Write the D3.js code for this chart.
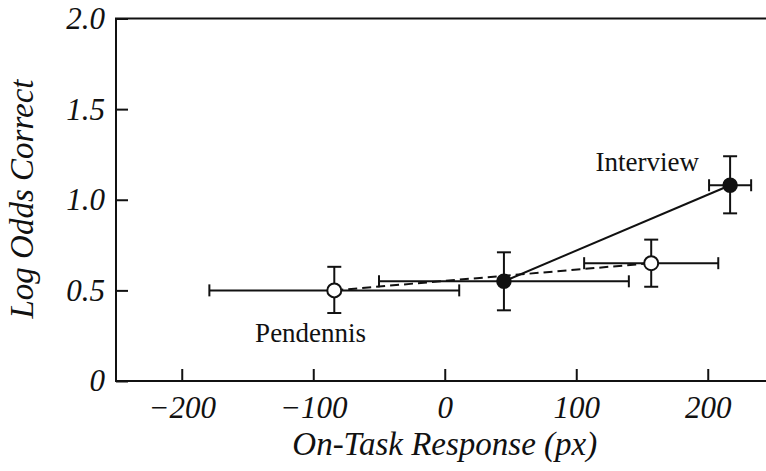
<!DOCTYPE html>
<html>
<head>
<meta charset="utf-8">
<script src="https://cdn.jsdelivr.net/npm/d3@7"></script>
<style>
  body { margin: 0; background: #fff; }
  svg { display: block; }
  svg text { font-family: 'Liberation Serif', 'Times New Roman', serif; }
</style>
</head>
<body>
<svg id="chart"></svg>
<script>
// values
const xTicks = [-200, -100, 0, 100, 200]
const yTicks = [0, 0.5, 1.0, 1.5, 2.0]

// Interview (filled markers, solid line)
const interviewX = [45, 217]
const interviewY = [0.55, 1.08]
const interviewXLo = [-50, 201]
const interviewXHi = [140, 233]
const interviewYLo = [0.39, 0.925]
const interviewYHi = [0.71, 1.24]

// Pendennis (open markers, dashed line)
const pendennisX = [-84, 157]
const pendennisY = [0.5, 0.65]
const pendennisXLo = [-179, 106]
const pendennisXHi = [11, 208]
const pendennisYLo = [0.375, 0.52]
const pendennisYHi = [0.63, 0.78]

const seriesNames = ['Interview', 'Pendennis']
const labelX = [154, -102]
const labelY = [1.16, 0.215]

const W = 766, H = 471
const plotLeft = 116, plotTop = 18.5, plotRight = 773.5, plotBottom = 381
const font = "'Liberation Serif', 'Times New Roman', serif"

const svg = d3.select('#chart').attr('width', W).attr('height', H)

const x = d3.scaleLinear().domain([-250, 250]).range([plotLeft, plotRight])
const y = d3.scaleLinear().domain([0, 2]).range([plotBottom, plotTop])

// frame
svg.append('rect')
  .attr('x', plotLeft).attr('y', plotTop)
  .attr('width', plotRight - plotLeft).attr('height', plotBottom - plotTop)
  .attr('fill', 'none').attr('stroke', '#111').attr('stroke-width', 2)

let xAxis = svg.append('g')
  .attr('transform', 'translate(0,' + plotBottom + ')')
  .call(d3.axisBottom(x).tickValues(xTicks).tickFormat(d3.format('d'))
    .tickSizeInner(-12).tickSizeOuter(0).tickPadding(15))
xAxis.select('.domain').remove()

let yAxis = svg.append('g')
  .attr('transform', 'translate(' + plotLeft + ',0)')
  .call(d3.axisLeft(y).tickValues(yTicks)
    .tickFormat(d => d === 0 ? '0' : d3.format('.1f')(d))
    .tickSizeInner(-12).tickSizeOuter(0).tickPadding(11))
yAxis.select('.domain').remove()

svg.selectAll('.tick line').attr('stroke', '#111').attr('stroke-width', 2)
svg.selectAll('.tick text')
  .style('font-family', font)
  .style('font-style', 'italic')
  .style('font-size', '31px')
  .attr('fill', '#111')

// axis titles
svg.append('text')
  .attr('x', x(0))
  .attr('y', 455)
  .attr('text-anchor', 'middle')
  .style('font-family', font).style('font-style', 'italic').style('font-size', '33px')
  .attr('fill', '#111')
  .text('On-Task Response (px)')

svg.append('text')
  .attr('transform', 'translate(33,199) rotate(-90)')
  .attr('text-anchor', 'middle')
  .style('font-family', font).style('font-style', 'italic').style('font-size', '33px')
  .attr('fill', '#111')
  .text('Log Odds Correct')

function toPoints (xs, ys, xlo, xhi, ylo, yhi) {
  return xs.map((d, i) => ({x: d, y: ys[i], xlo: xlo[i], xhi: xhi[i], ylo: ylo[i], yhi: yhi[i]}))
}

const interview = toPoints(interviewX, interviewY, interviewXLo, interviewXHi, interviewYLo, interviewYHi)
const pendennis = toPoints(pendennisX, pendennisY, pendennisXLo, pendennisXHi, pendennisYLo, pendennisYHi)

const line = d3.line().x(d => x(d.x)).y(d => y(d.y))

svg.append('path')
  .attr('d', line(interview))
  .attr('fill', 'none').attr('stroke', '#111').attr('stroke-width', 2)

svg.append('path')
  .attr('d', line(pendennis))
  .attr('fill', 'none').attr('stroke', '#111').attr('stroke-width', 2)
  .attr('stroke-dasharray', '9,5')

function drawErrorBars (g, pts) {
  pts.forEach(function (p) {
    let segs = [
      [x(p.xlo), y(p.y), x(p.xhi), y(p.y)],
      [x(p.xlo), y(p.y) - 6, x(p.xlo), y(p.y) + 6],
      [x(p.xhi), y(p.y) - 6, x(p.xhi), y(p.y) + 6],
      [x(p.x), y(p.ylo), x(p.x), y(p.yhi)],
      [x(p.x) - 7, y(p.ylo), x(p.x) + 7, y(p.ylo)],
      [x(p.x) - 7, y(p.yhi), x(p.x) + 7, y(p.yhi)]
    ]
    segs.forEach(function (s) {
      g.append('line')
        .attr('x1', s[0]).attr('y1', s[1]).attr('x2', s[2]).attr('y2', s[3])
        .attr('stroke', '#111').attr('stroke-width', 2)
    })
  })
}

let bars = svg.append('g')
drawErrorBars(bars, interview)
drawErrorBars(bars, pendennis)

svg.append('g').selectAll('circle')
  .data(interview).join('circle')
  .attr('cx', d => x(d.x)).attr('cy', d => y(d.y)).attr('r', 7)
  .attr('fill', '#111').attr('stroke', '#111').attr('stroke-width', 1.5)

svg.append('g').selectAll('circle')
  .data(pendennis).join('circle')
  .attr('cx', d => x(d.x)).attr('cy', d => y(d.y)).attr('r', 7)
  .attr('fill', '#fff').attr('stroke', '#111').attr('stroke-width', 2)

// series labels
svg.append('g').selectAll('text')
  .data(seriesNames).join('text')
  .attr('x', (d, i) => x(labelX[i]))
  .attr('y', (d, i) => y(labelY[i]))
  .attr('text-anchor', 'middle')
  .style('font-family', font).style('font-size', '27px')
  .attr('fill', '#111')
  .text(d => d)
</script>
</body>
</html>
